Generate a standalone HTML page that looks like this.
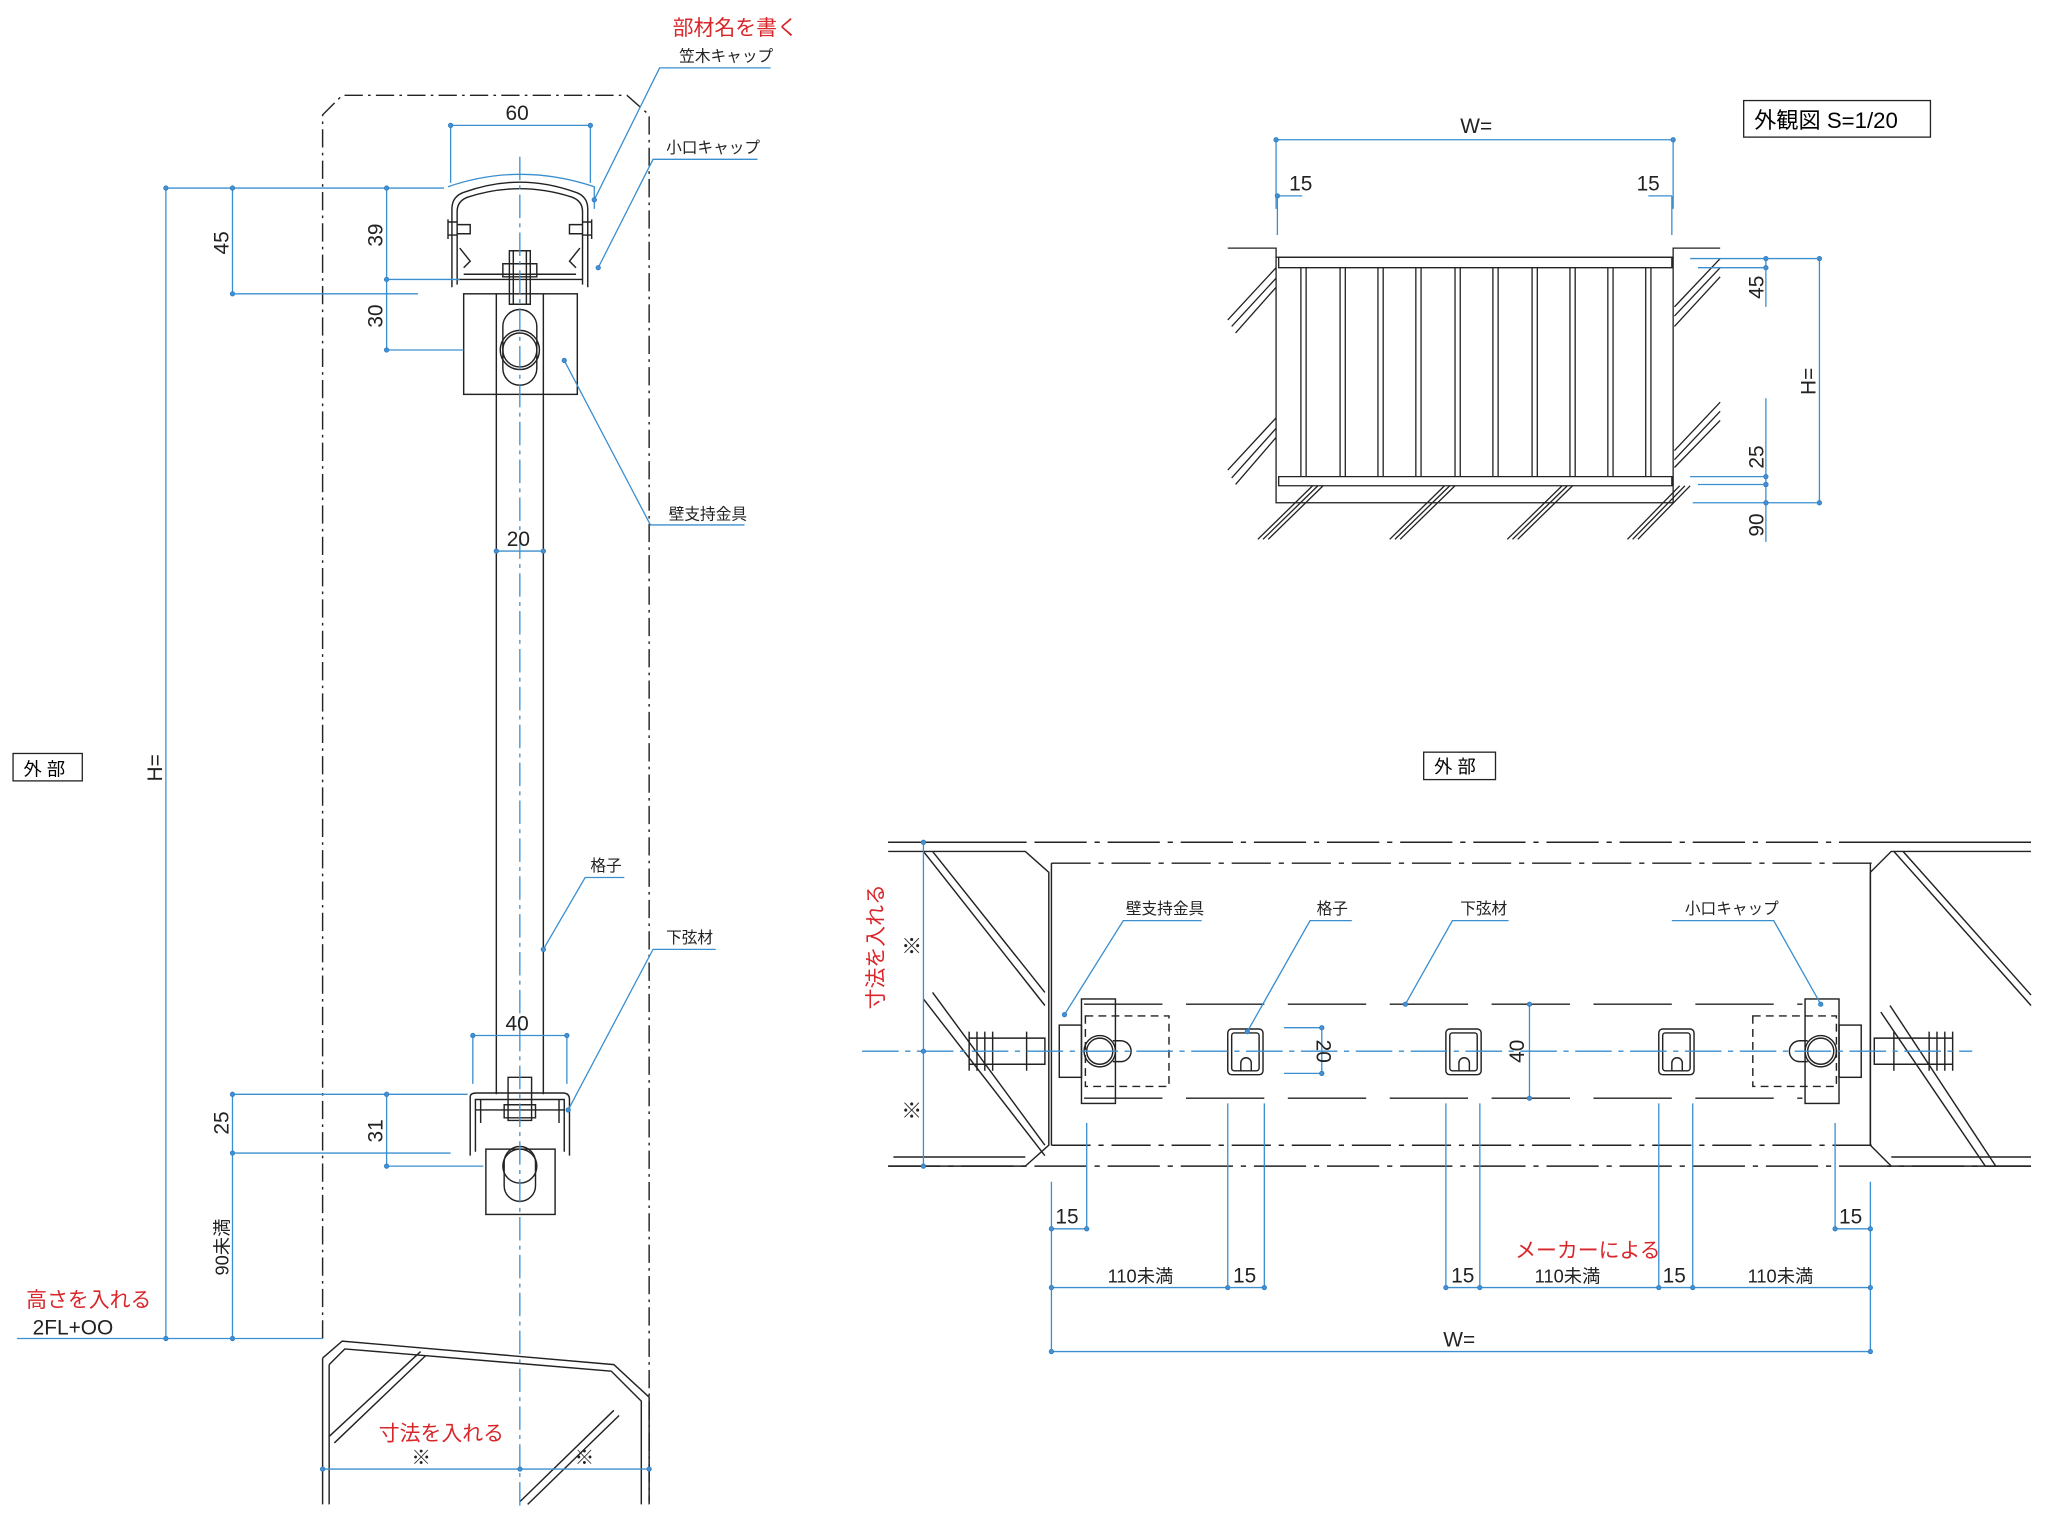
<!DOCTYPE html>
<html><head><meta charset="utf-8">
<style>
html,body{margin:0;padding:0;background:#fff;}
svg{display:block;}
text{font-family:"Liberation Sans","Noto Sans CJK JP",sans-serif;}
</style></head>
<body>
<svg width="2048" height="1520" viewBox="0 0 1568 1164" preserveAspectRatio="none" xmlns="http://www.w3.org/2000/svg">
<defs>
<marker id="d" viewBox="0 0 6 6" refX="3" refY="3" markerWidth="5" markerHeight="5"><circle cx="3" cy="3" r="2" fill="#4a90d0" stroke="#2b7cc4" stroke-width="0.8"/></marker>
</defs>
<g fill="none" stroke="#222" stroke-width="1.1">
<path d="M247,1025 V88 L262,73 H480 L497,88 V1150" stroke-dasharray="14,4,2,4"/>
<path d="M247,1040 L262,1027 L470,1045 L497,1070 V1152 M247,1040 V1152"/>
<path d="M252,1045 L264,1033 L468,1050 L491,1073 V1152 M252,1045 V1152"/>
<path d="M252,1100 L322,1035 M256,1105 L326,1038 M398,1150 L470,1080 M404,1152 L474,1084"/>
<path d="M346,220 V160 Q346,150 356,147 Q398,132 440,147 Q450,150 450,160 V220"/>
<path d="M350,218 V162 Q350,154 358,151 Q398,138 438,151 Q446,154 446,162 V218"/>
<path d="M350,214 H446 M355,210 H441"/>
<path d="M343,170 H350 M343,180 H350 M343,168 V183 M350,172 H360 V179 H350"/>
<path d="M453,170 H446 M453,180 H446 M453,168 V183 M446,172 H436 V179 H446"/>
<path d="M352,190 L360,200 L355,205 M444,190 L436,200 L441,205"/>
<path d="M390,192 H406 V233 H390 Z M385,202 H411 V212 H385 Z M393,192 V233 M403,192 V233"/>
<rect x="355" y="225" width="87" height="77"/>
<path d="M380,225 V838 M416,225 V838"/>
<rect x="385" y="237" width="26" height="58" rx="13"/>
<circle cx="398" cy="268" r="15"/><circle cx="398" cy="268" r="13"/>
<path d="M360,885 V840 Q360,837 365,837 H431 Q436,837 436,842 V885"/>
<path d="M364,882 V842 H432 V882 M368,842 V860 M428,842 V860 M364,850 H432"/>
<path d="M389,825 H407 V858 H389 Z M386,846 H410 V856 H386 Z"/>
<rect x="372" y="880" width="53" height="50"/>
<rect x="386" y="878" width="24" height="42" rx="12"/>
<circle cx="398" cy="893" r="13"/>
</g>
<g fill="none" stroke="#3a8fd0" stroke-width="1">
<path d="M398,120 V1155" stroke-dasharray="18,4,3,4"/>
<path d="M343,143 Q398,124 455,143 V160"/>
<path d="M345,96 V140 M452,96 V140"/>
<path d="M345,96 H452" marker-start="url(#d)" marker-end="url(#d)"/>
<path d="M127,144 H340 M127,144 V1025" marker-start="url(#d)" marker-end="url(#d)"/>
<path d="M178,144 V225" marker-start="url(#d)" marker-end="url(#d)"/>
<path d="M178,225 H320"/>
<path d="M296,144 V214" marker-start="url(#d)" marker-end="url(#d)"/>
<path d="M296,214 V268" marker-end="url(#d)"/>
<path d="M296,214 H352 M296,268 H355"/>
<path d="M380,422 H416" marker-start="url(#d)" marker-end="url(#d)"/>
<path d="M362,793 H434" marker-start="url(#d)" marker-end="url(#d)"/>
<path d="M362,793 V830 M434,793 V830"/>
<path d="M178,838 V883" marker-start="url(#d)" marker-end="url(#d)"/>
<path d="M178,883 V1025" marker-end="url(#d)"/>
<path d="M178,838 H358 M178,883 H345"/>
<path d="M296,838 V893" marker-start="url(#d)" marker-end="url(#d)"/>
<path d="M296,893 H370"/>
<path d="M13,1025 H247"/>
<path d="M247,1125 H497" marker-start="url(#d)" marker-end="url(#d)"/>
<path d="M398,1125 H398.1" marker-end="url(#d)"/>
<path d="M590,52 H505 L455,153" marker-end="url(#d)"/>
<path d="M580,122 H500 L458,205" marker-end="url(#d)"/>
<path d="M570,402 H498 L432,276" marker-end="url(#d)"/>
<path d="M478,672 H448 L416,727" marker-end="url(#d)"/>
<path d="M548,727 H500 L435,850" marker-end="url(#d)"/>
</g>
<g font-size="16" fill="#222">
<text x="387" y="92">60</text>
<text x="175" y="186" transform="rotate(-90 175 186)" text-anchor="middle">45</text>
<text x="293" y="180" transform="rotate(-90 293 180)" text-anchor="middle">39</text>
<text x="293" y="242" transform="rotate(-90 293 242)" text-anchor="middle">30</text>
<text x="124" y="588" transform="rotate(-90 124 588)" text-anchor="middle">H=</text>
<text x="388" y="418">20</text>
<text x="387" y="789">40</text>
<text x="175" y="860" transform="rotate(-90 175 860)" text-anchor="middle">25</text>
<text x="293" y="866" transform="rotate(-90 293 866)" text-anchor="middle">31</text>
<text x="175" y="955" transform="rotate(-90 175 955)" text-anchor="middle" font-size="14">90未満</text>
<text x="25" y="1022">2FL+OO</text>
<text x="520" y="47" font-size="12">笠木キャップ</text>
<text x="510" y="117" font-size="12">小口キャップ</text>
<text x="512" y="398" font-size="12">壁支持金具</text>
<text x="452" y="667" font-size="12">格子</text>
<text x="510" y="722" font-size="12">下弦材</text>
<text x="315" y="1121" font-size="15">※</text>
<text x="440" y="1121" font-size="15">※</text>
</g>
<g fill="#d8262a" font-size="16">
<text x="515" y="27">部材名を書く</text>
<text x="20" y="1001">高さを入れる</text>
<text x="290" y="1103">寸法を入れる</text>
<text x="676" y="725" transform="rotate(-90 676 725)" text-anchor="middle">寸法を入れる</text>
<text x="1160" y="963">メーカーによる</text>
</g>
<rect x="10" y="577" width="53" height="21" fill="none" stroke="#222"/>
<text x="18" y="594" font-size="14">外 部</text>
<rect x="1090" y="576" width="55" height="21" fill="none" stroke="#222"/>
<text x="1098" y="592" font-size="14">外 部</text>
<rect x="1335" y="77" width="143" height="28" fill="none" stroke="#222"/>
<text x="1343" y="98" font-size="17">外観図 S=1/20</text>

<g fill="none" stroke="#222" stroke-width="1">
<path d="M940,190 H977 V197 M1281,197 V190 H1317"/>
<rect x="977" y="197" width="304" height="188"/>
<path d="M979,197 H1280 V205 H979 Z M979,365 H1280 V372 H979 Z"/>
<path d="M940,245 L977,205 M943,250 L977,213 M946,255 L977,220"/>
<path d="M940,360 L977,320 M943,366 L977,328 M946,371 L977,335"/>
<path d="M1282,235 L1317,198 M1282,242 L1317,205 M1282,250 L1317,212"/>
<path d="M1282,345 L1317,308 M1282,352 L1317,315 M1282,358 L1317,322"/>
<path d="M963,413 L1005,372 M967,413 L1009,372 M971,413 L1013,372"/>
<path d="M1064,413 L1106,372 M1068,413 L1110,372 M1072,413 L1114,372"/>
<path d="M1154,413 L1196,372 M1158,413 L1200,372 M1162,413 L1204,372"/>
<path d="M1246,413 L1286,372 M1250,413 L1290,372 M1254,413 L1294,372"/>
<path d="M996,205V365M1000,205V365M1026,205V365M1030,205V365M1055,205V365M1059,205V365M1084,205V365M1088,205V365M1114,205V365M1118,205V365M1143,205V365M1147,205V365M1173,205V365M1177,205V365M1202,205V365M1206,205V365M1231,205V365M1235,205V365M1260,205V365M1264,205V365"/>
</g>
<g fill="none" stroke="#3a8fd0" stroke-width="1">
<path d="M977,107 H1281" marker-start="url(#d)" marker-end="url(#d)"/>
<path d="M977,107 V160 M1281,107 V160"/>
<path d="M978,150 H997 M1262,150 H1280" marker-start="url(#d)"/>
<path d="M978,150 V180 M1280,150 V180"/>
<path d="M1352,198 V205" marker-start="url(#d)" marker-end="url(#d)"/>
<path d="M1352,205 V235 M1352,305 V365"/>
<path d="M1352,365 V371" marker-start="url(#d)" marker-end="url(#d)"/>
<path d="M1352,371 V385 V415" marker-start="url(#d)"/>
<path d="M1393,198 V385" marker-start="url(#d)" marker-end="url(#d)"/>
<path d="M1294,198 H1393 M1300,205 H1352 M1294,365 H1352 M1300,371 H1352 M1296,385 H1393"/>
<path d="M1352,385 H1352.1" marker-end="url(#d)"/>
</g>
<g font-size="16" fill="#222">
<text x="1118" y="102">W=</text>
<text x="987" y="146">15</text>
<text x="1253" y="146">15</text>
<text x="1350" y="220" transform="rotate(-90 1350 220)" text-anchor="middle">45</text>
<text x="1390" y="292" transform="rotate(-90 1390 292)" text-anchor="middle">H=</text>
<text x="1350" y="350" transform="rotate(-90 1350 350)" text-anchor="middle">25</text>
<text x="1350" y="402" transform="rotate(-90 1350 402)" text-anchor="middle">90</text>
</g>

<g fill="none" stroke="#222" stroke-width="1.1">
<path d="M680,645 H1555 M680,893 H1555" stroke-dasharray="40,6,4,6"/>
<path d="M680,645 H785 M680,893 H785 M1445,645 H1555 M1445,893 H1555"/>
<path d="M680,652 H785 L803,668 V877 L785,893 M684,886 H785"/>
<path d="M1555,652 H1448 L1432,668 V877 L1448,893 M1555,886 H1448"/>
<path d="M805,661 H1435 M805,877 H1435" stroke-dasharray="30,6,4,6"/>
<path d="M805,661 V877 M1432,661 V877"/>
<path d="M707,652 L800,770 M714,652 L800,760 M707,765 L800,885 M714,760 L800,877"/>
<path d="M1450,652 L1555,770 M1457,652 L1555,762 M1440,775 L1520,893 M1447,770 L1528,893"/>
<path d="M830,769 H1380 M830,841 H1380" stroke-dasharray="60,18"/>
<rect x="828" y="765" width="26" height="80"/>
<rect x="831" y="778" width="64" height="54" stroke-dasharray="6,4"/>
<circle cx="842" cy="805" r="12"/><circle cx="842" cy="805" r="10"/>
<path d="M852,797 H858 A8,8 0 0 1 858,813 H852"/>
<rect x="811" y="785" width="17" height="40"/>
<path d="M742,795 H800 V815 H742 Z M742,790 V820 M748,790 V820 M754,790 V820 M760,790 V820 M786,790 V820"/>
<rect x="1382" y="765" width="26" height="80"/>
<rect x="1342" y="778" width="64" height="54" stroke-dasharray="6,4"/>
<circle cx="1394" cy="805" r="12"/><circle cx="1394" cy="805" r="10"/>
<path d="M1384,797 H1378 A8,8 0 0 0 1378,813 H1384"/>
<rect x="1408" y="785" width="17" height="40"/>
<path d="M1435,795 H1495 V815 H1435 Z M1495,790 V820 M1489,790 V820 M1483,790 V820 M1477,790 V820 M1450,790 V820"/>
<rect x="940" y="788" width="27" height="35" rx="3"/><rect x="943" y="791" width="21" height="29" rx="2"/>
<path d="M950,820 v-6 a4,4 0 0 1 8,0 v6"/>
<rect x="1107" y="788" width="27" height="35" rx="3"/><rect x="1110" y="791" width="21" height="29" rx="2"/>
<path d="M1117,820 v-6 a4,4 0 0 1 8,0 v6"/>
<rect x="1270" y="788" width="27" height="35" rx="3"/><rect x="1273" y="791" width="21" height="29" rx="2"/>
<path d="M1280,820 v-6 a4,4 0 0 1 8,0 v6"/>
</g>
<g fill="none" stroke="#3a8fd0" stroke-width="1">
<path d="M660,805 H1510" stroke-dasharray="28,5,4,5"/>
<path d="M707,645 V805" marker-start="url(#d)" marker-end="url(#d)"/>
<path d="M707,805 V893" marker-end="url(#d)"/>
<path d="M983,787 H1012 M983,822 H1012"/>
<path d="M1012,787 V822" marker-start="url(#d)" marker-end="url(#d)"/>
<path d="M1171,769 V841" marker-start="url(#d)" marker-end="url(#d)"/>
<path d="M805,905 V1035 M832,860 V941 M1432,905 V1035 M1405,860 V941"/>
<path d="M940,845 V986 M968,845 V986 M1107,845 V986 M1133,845 V986 M1270,845 V986 M1296,845 V986"/>
<path d="M805,941 H832" marker-start="url(#d)" marker-end="url(#d)"/>
<path d="M1405,941 H1432" marker-start="url(#d)" marker-end="url(#d)"/>
<path d="M805,986 H940" marker-start="url(#d)" marker-end="url(#d)"/>
<path d="M940,986 H968" marker-end="url(#d)"/>
<path d="M1107,986 H1133" marker-start="url(#d)" marker-end="url(#d)"/>
<path d="M1133,986 H1270" marker-end="url(#d)"/>
<path d="M1270,986 H1296" marker-end="url(#d)"/>
<path d="M1296,986 H1432" marker-end="url(#d)"/>
<path d="M805,1035 H1432" marker-start="url(#d)" marker-end="url(#d)"/>
<path d="M920,705 H860 L815,777" marker-end="url(#d)"/>
<path d="M1035,705 H1003 L955,790" marker-end="url(#d)"/>
<path d="M1155,705 H1112 L1076,769" marker-end="url(#d)"/>
<path d="M1280,705 H1358 L1394,769" marker-end="url(#d)"/>
</g>
<g font-size="16" fill="#222">
<text x="862" y="700" font-size="12">壁支持金具</text>
<text x="1008" y="700" font-size="12">格子</text>
<text x="1118" y="700" font-size="12">下弦材</text>
<text x="1290" y="700" font-size="12">小口キャップ</text>
<text x="1008" y="805" transform="rotate(90 1008 805)" text-anchor="middle">20</text>
<text x="1167" y="805" transform="rotate(-90 1167 805)" text-anchor="middle">40</text>
<text x="808" y="937">15</text>
<text x="1408" y="937">15</text>
<text x="848" y="982" font-size="14">110未満</text>
<text x="944" y="982">15</text>
<text x="1111" y="982">15</text>
<text x="1175" y="982" font-size="14">110未満</text>
<text x="1273" y="982">15</text>
<text x="1338" y="982" font-size="14">110未満</text>
<text x="1105" y="1031">W=</text>
<text x="690" y="730">※</text>
<text x="690" y="856">※</text>
</g>
</svg>
</body></html>
